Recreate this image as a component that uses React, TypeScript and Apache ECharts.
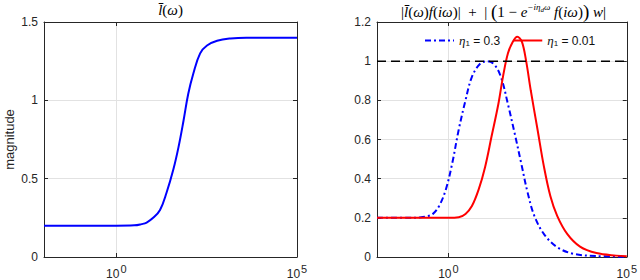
import React, { useEffect, useRef } from "react";
import * as echarts from "echarts";

// ---- data (x values are log10 of omega) ----
const leftLogW = [-2, -1, 0, 0.5, 0.7, 0.84, 1.02, 1.21, 1.39, 1.58, 1.72, 1.86, 1.99, 2.13, 2.32, 2.51, 2.79, 3.16, 3.6, 4, 5];
const leftMag = [0.2, 0.2, 0.2, 0.202, 0.21, 0.22, 0.25, 0.3, 0.41, 0.56, 0.7, 0.87, 1.04, 1.17, 1.3, 1.35, 1.38, 1.395, 1.4, 1.4, 1.4];

const blueLogW = [-2, -1, -0.8, -0.6, -0.44, -0.26, -0.07, 0.11, 0.29, 0.48, 0.66, 0.89, 1.1, 1.31, 1.49, 1.67, 1.86, 2.04, 2.22, 2.41, 2.68, 3.05, 3.51, 4.15, 5];
const blueMag = [0.2, 0.2, 0.202, 0.208, 0.219, 0.26, 0.345, 0.48, 0.65, 0.8, 0.92, 0.987, 1.0, 0.978, 0.91, 0.78, 0.63, 0.48, 0.33, 0.21, 0.117, 0.05, 0.016, 0.005, 0.001];

const redLogW = [-2, 0, 0.29, 0.48, 0.66, 0.85, 1.03, 1.21, 1.4, 1.53, 1.67, 1.81, 1.93, 2.06, 2.18, 2.31, 2.5, 2.68, 2.86, 3.05, 3.33, 3.69, 4.15, 4.7, 5];
const redMag = [0.2, 0.2, 0.203, 0.22, 0.26, 0.345, 0.46, 0.615, 0.78, 0.92, 1.04, 1.1, 1.125, 1.1, 1.0, 0.85, 0.65, 0.46, 0.31, 0.21, 0.118, 0.053, 0.02, 0.007, 0.004];

const refLevel = 1;
const xRange = [-2, 5];
const xTickExps = [0, 5];
const leftYTicks = { min: 0, max: 1.5, interval: 0.5 };
const rightYTicks = { min: 0, max: 1.2, interval: 0.2 };
const etaValues = [0.3, 0.01];
const seriesNames = ["η1 = 0.3", "η1 = 0.01"];

const zip = (xs: number[], ys: number[]) => xs.map((x, i) => [x, ys[i]]);

const AX = "#262626";
const GRID = "#e2e2e2";
const SANS = "Liberation Sans, Arial, sans-serif";
const SERIF = "Liberation Serif, Times New Roman, serif";

function bottomX(gridIndex: number) {
  return {
    gridIndex,
    type: "value",
    min: xRange[0],
    max: xRange[1],
    position: "bottom",
    axisLine: { show: true, onZero: false, lineStyle: { color: AX, width: 1 } },
    axisTick: { show: true, inside: true, length: 4, customValues: xTickExps, lineStyle: { color: AX } },
    axisLabel: {
      customValues: xTickExps,
      margin: 6,
      formatter: (v: number) => `{b|10}{s|${v}}`,
      rich: {
        b: { fontSize: 12, fontFamily: SANS, color: AX, verticalAlign: "bottom" },
        s: { fontSize: 11, fontFamily: SANS, color: AX, verticalAlign: "bottom", padding: [0, 0, 6, 1] },
      },
    },
    splitLine: { show: true, lineStyle: { color: GRID, width: 1 } },
  };
}
function topX(gridIndex: number) {
  return {
    gridIndex,
    type: "value",
    min: xRange[0],
    max: xRange[1],
    position: "top",
    axisLine: { show: true, onZero: false, lineStyle: { color: AX, width: 1 } },
    axisTick: { show: true, inside: true, length: 4, customValues: xTickExps, lineStyle: { color: AX } },
    axisLabel: { show: false },
    splitLine: { show: false },
  };
}
function leftY(gridIndex: number, t: { min: number; max: number; interval: number }, name?: string) {
  return {
    gridIndex,
    type: "value",
    min: t.min,
    max: t.max,
    interval: t.interval,
    position: "left",
    name: name || "",
    nameLocation: "middle",
    nameGap: 28,
    nameTextStyle: { fontSize: 13, fontFamily: SANS, color: AX },
    axisLine: { show: true, onZero: false, lineStyle: { color: AX, width: 1 } },
    axisTick: { show: true, inside: true, length: 4, lineStyle: { color: AX } },
    axisLabel: { fontSize: 12, fontFamily: SANS, color: AX, margin: 6 },
    splitLine: { show: true, lineStyle: { color: GRID, width: 1 } },
  };
}
function rightY(gridIndex: number, t: { min: number; max: number; interval: number }) {
  return {
    gridIndex,
    type: "value",
    min: t.min,
    max: t.max,
    interval: t.interval,
    position: "right",
    axisLine: { show: true, onZero: false, lineStyle: { color: AX, width: 1 } },
    axisTick: { show: true, inside: true, length: 4, lineStyle: { color: AX } },
    axisLabel: { show: false },
    splitLine: { show: false },
  };
}

const titleRich = {
  r: { fontSize: 15, fontFamily: SERIF, color: "#111", verticalAlign: "bottom" },
  i: { fontSize: 15, fontFamily: SERIF, fontStyle: "italic", color: "#111", verticalAlign: "bottom" },
  big: { fontSize: 19, fontFamily: SERIF, color: "#111", verticalAlign: "bottom", padding: [0, 0, -2, 0] },
  sup: { fontSize: 9, fontFamily: SERIF, fontStyle: "italic", color: "#111", verticalAlign: "bottom", padding: [0, 0, 8, 0] },
  ss: { fontSize: 7, fontFamily: SERIF, fontStyle: "italic", color: "#111", verticalAlign: "bottom", padding: [0, 0, 6, 0] },
};

export default function App() {
  const ref = useRef<HTMLDivElement>(null);
  useEffect(() => {
    if (!ref.current) return;
    const chart = echarts.init(ref.current, null, { renderer: "svg" });
    chart.setOption({
      animation: false,
      backgroundColor: "#ffffff",
      grid: [
        { left: 44, top: 22, width: 253, height: 236, show: false },
        { left: 377, top: 22, width: 253, height: 236, show: false },
      ],
      xAxis: [bottomX(0), topX(0), bottomX(1), topX(1)],
      yAxis: [leftY(0, leftYTicks, "magnitude"), rightY(0, leftYTicks), leftY(1, rightYTicks), rightY(1, rightYTicks)],
      legend: {
        data: seriesNames,
        left: 419,
        top: 29,
        itemWidth: 29,
        itemHeight: 12,
        itemGap: 12,
        itemStyle: { opacity: 0 },
        formatter: (name: string) => {
          const idx = seriesNames.indexOf(name);
          return `{e|η}{sub|1}{t| = ${etaValues[idx]}}`;
        },
        textStyle: {
          color: "#111",
          rich: {
            e: { fontSize: 13, fontFamily: SERIF, fontStyle: "italic", color: "#111" },
            sub: { fontSize: 8, fontFamily: SANS, color: "#111", padding: [6, 0, 0, 0] },
            t: { fontSize: 12, fontFamily: SANS, color: "#111" },
          },
        },
      },
      graphic: [
        {
          type: "text",
          x: 170.5,
          y: 2,
          style: {
            text: "{i|l\u0304}{r|(}{i|ω}{r|)}",
            rich: titleRich,
            align: "center",
            verticalAlign: "top",
          },
        },
        {
          type: "text",
          x: 503.5,
          y: 2,
          style: {
            text:
              "{r||}{i|l\u0304}{r|(}{i|ω}{r|)}{i|f}{r|(}{i|iω}{r|)|  +  | }{big|(}{r|1 − }{i|e}{sup|−iη}{ss|d}{sup|ω}{i| f}{r|(}{i|iω}{r|)}{big|)}{i| w}{r||}",
            rich: titleRich,
            align: "center",
            verticalAlign: "top",
          },
        },
      ],
      series: [
        {
          type: "line",
          xAxisIndex: 0,
          yAxisIndex: 0,
          data: zip(leftLogW, leftMag),
          symbol: "none",
          smooth: 0.4,
          lineStyle: { color: "#0000ff", width: 2 },
          itemStyle: { color: "#0000ff" },
        },
        {
          name: seriesNames[0],
          type: "line",
          xAxisIndex: 2,
          yAxisIndex: 2,
          data: zip(blueLogW, blueMag),
          symbol: "none",
          smooth: 0.35,
          lineStyle: { color: "#0000ff", width: 2, type: [6, 3, 2, 3] },
          itemStyle: { color: "#0000ff" },
        },
        {
          name: seriesNames[1],
          type: "line",
          xAxisIndex: 2,
          yAxisIndex: 2,
          data: zip(redLogW, redMag),
          symbol: "none",
          smooth: 0.35,
          lineStyle: { color: "#ff0000", width: 2 },
          itemStyle: { color: "#ff0000" },
        },
        {
          type: "line",
          xAxisIndex: 2,
          yAxisIndex: 2,
          data: [
            [xRange[0], refLevel],
            [xRange[1], refLevel],
          ],
          symbol: "none",
          lineStyle: { color: "#000000", width: 1.5, type: [9, 5] },
          z: 3,
        },
      ],
    });
    return () => chart.dispose();
  }, []);
  return <div ref={ref} style={{ position: "fixed", left: 0, top: 0, width: 640, height: 280, background: "#fff" }} />;
}
